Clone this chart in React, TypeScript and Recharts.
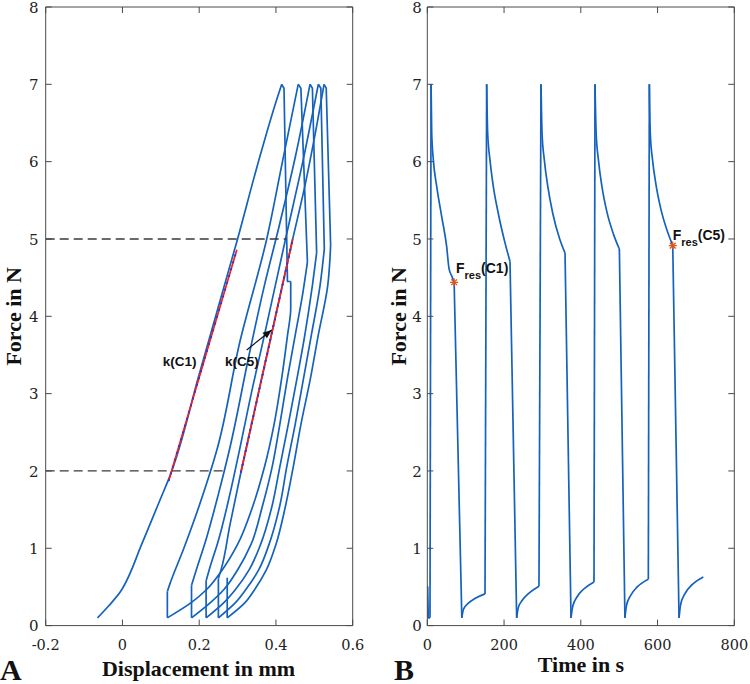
import React from 'react';
import { LineChart, Line, XAxis, YAxis } from 'recharts';

// ---------- ticks ----------
const xTicksA = [-0.2, 0, 0.2, 0.4, 0.6];
const xTicksB = [0, 200, 400, 600, 800];
const yTicks = [0, 1, 2, 3, 4, 5, 6, 7, 8];

// ---------- panel A: force (N) vs displacement (mm) ----------
// loading branches
const loadA1 = [
  [-0.065, 0.1], [-0.035, 0.26], [-0.005, 0.44], [0, 0.48], [0.05, 1.05], [0.1, 1.65], [0.121, 1.9],
  [0.2, 3.25], [0.3, 5.0], [0.36, 6.1], [0.405, 6.85], [0.415, 7.0],
];
const loadA2 = [
  [0.117, 0.44], [0.123, 0.53], [0.16, 1.0], [0.2, 1.55], [0.246, 2.27], [0.306, 3.67], [0.376, 5.0],
  [0.417, 6.0], [0.458, 7.0],
];
const loadA3 = [
  [0.18, 0.52], [0.19, 0.68], [0.22, 1.15], [0.25, 1.7], [0.28, 2.3], [0.33, 3.5], [0.37, 4.4],
  [0.41, 5.2], [0.45, 6.05], [0.4887, 7.0],
];
const loadA4 = [
  [0.218, 0.58], [0.226, 0.72], [0.25, 1.1], [0.28, 1.7], [0.305, 2.27], [0.34, 3.1], [0.366, 3.67],
  [0.425, 5.0], [0.47, 6.0], [0.5104, 7.0],
];
const loadA5 = [
  [0.25, 0.61], [0.258, 0.74], [0.28, 1.3], [0.309, 1.99], [0.384, 3.67], [0.4437, 5.0], [0.476, 5.7],
  [0.5, 6.3], [0.5253, 7.0],
];
// relaxation at (almost) constant displacement
const relaxA1 = [[0.415, 7.0], [0.421, 6.95], [0.43, 4.45], [0.4385, 4.45]];
const relaxA2 = [[0.458, 7.0], [0.465, 6.95], [0.482, 4.7]];
const relaxA3 = [[0.4887, 7.0], [0.495, 6.95], [0.506, 4.82]];
const relaxA4 = [[0.5104, 7.0], [0.517, 6.95], [0.526, 4.87]];
const relaxA5 = [[0.5253, 7.0], [0.531, 6.95], [0.5425, 4.92]];
// unloading branches
const unloadA1 = [
  [0.4385, 4.45], [0.4385, 4.1], [0.43, 3.75], [0.415, 3.2], [0.395, 2.6], [0.37, 2.05], [0.34, 1.55],
  [0.3, 1.05], [0.26, 0.72], [0.22, 0.47], [0.18, 0.3], [0.117, 0.1],
];
const unloadA2 = [
  [0.482, 4.7], [0.47, 4.3], [0.45, 3.75], [0.43, 3.2], [0.41, 2.6], [0.39, 2.05], [0.365, 1.55],
  [0.335, 1.05], [0.3, 0.72], [0.265, 0.47], [0.23, 0.3], [0.18, 0.1],
];
const unloadA3 = [
  [0.506, 4.82], [0.495, 4.4], [0.475, 3.75], [0.455, 3.2], [0.432, 2.6], [0.41, 2.05], [0.39, 1.55],
  [0.36, 1.05], [0.33, 0.72], [0.295, 0.47], [0.265, 0.3], [0.218, 0.1],
];
const unloadA4 = [
  [0.526, 4.87], [0.515, 4.4], [0.492, 3.75], [0.472, 3.2], [0.45, 2.6], [0.428, 2.05], [0.41, 1.55],
  [0.382, 1.05], [0.355, 0.72], [0.322, 0.47], [0.295, 0.3], [0.25, 0.1],
];
const unloadA5 = [
  [0.5425, 4.92], [0.535, 4.4], [0.51, 3.75], [0.49, 3.2], [0.465, 2.6], [0.445, 2.05], [0.425, 1.55],
  [0.4, 1.05], [0.375, 0.72], [0.345, 0.47], [0.32, 0.3], [0.273, 0.1],
];
const finalRecoveryA = [[0.273, 0.1], [0.273, 0.62]];

const dash5 = [[-0.2, 5], [0.428, 5]];
const dash2 = [[-0.2, 2], [0.27, 2]];
const kC1 = [[0.121, 1.88], [0.298, 4.86]];
const kC5 = [[0.309, 1.99], [0.4437, 5.0]];
const arrowC5 = [[0.3238, 3.565], [0.389, 3.824]];
const kLabels = [
  { x: 0.1487, y: 3.352, text: 'k(C1)' },
  { x: 0.3115, y: 3.352, text: 'k(C5)' },
];

// ---------- panel B: force (N) vs time (s) ----------
const preB = [[0.3, 0.1], [1, 0.5], [2.6, 0.1], [7, 0.1]];
const relaxB1 = [
  [9.8, 7.0], [11.5, 6.37], [15.8, 6.02], [24.5, 5.68], [37.5, 5.29], [50.5, 4.9], [56.5, 4.62],
  [64.6, 4.51], [69.9, 4.44],
];
const relaxB2 = [[154.7, 7.0], [157.3, 6.37], [163.4, 6.02], [172, 5.68], [185, 5.33], [202.5, 4.95], [215.5, 4.71]];
const relaxB3 = [[296.3, 7.0], [299, 6.37], [305, 6.02], [314, 5.68], [327, 5.33], [345, 5.0], [358.9, 4.82]];
const relaxB4 = [[437, 7.0], [440, 6.37], [446, 6.02], [455, 5.68], [468, 5.35], [486, 5.05], [500.5, 4.87]];
const relaxB5 = [[578.6, 7.0], [581, 6.37], [587, 6.02], [596, 5.7], [609, 5.38], [627, 5.08], [639.6, 4.915]];
const recoverB1 = [[90, 0.1], [94, 0.21], [107, 0.29], [124, 0.35], [150.4, 0.41]];
const recoverB2 = [[232.9, 0.1], [237, 0.23], [248, 0.33], [265, 0.42], [291, 0.51]];
const recoverB3 = [[374.5, 0.1], [379, 0.25], [390, 0.37], [407, 0.47], [434.4, 0.565]];
const recoverB4 = [[515, 0.1], [519, 0.26], [530, 0.39], [547, 0.5], [576, 0.6]];
const recoverB5 = [[656, 0.1], [660, 0.27], [671, 0.41], [690, 0.53], [719.3, 0.63]];
const fresStars = [[69.9, 4.44], [639.6, 4.915]];
const fresLabels = [
  { x: 74.8, y: 4.56, text: '(C1)' },
  { x: 639.5, y: 4.99, text: '(C5)' },
];

// ---------- derived straight joins ----------
const first = (a: number[][]) => a[0];
const last = (a: number[][]) => a[a.length - 1];
const loadsA = [loadA1, loadA2, loadA3, loadA4, loadA5];
const relaxesA = [relaxA1, relaxA2, relaxA3, relaxA4, relaxA5];
const unloadsA = [unloadA1, unloadA2, unloadA3, unloadA4, unloadA5];
const recoveryJoinsA = [0, 1, 2, 3].map((i) => [last(unloadsA[i]), first(loadsA[i + 1])]);

const relaxesB = [relaxB1, relaxB2, relaxB3, relaxB4, relaxB5];
const recoversB = [recoverB1, recoverB2, recoverB3, recoverB4, recoverB5];
const unloadJoinsB = relaxesB.map((r, i) => [last(r), first(recoversB[i])]);
const reloadJoinsB = [[last(preB), first(relaxB1)], ...[0, 1, 2, 3].map((i) => [last(recoversB[i]), first(relaxesB[i + 1])])];

// ---------- styling ----------
const BLUE = '#1462bd';
const AX = '#4a4a4a';
const SERIF = "'DejaVu Serif', serif";
const TITLE = "'Liberation Serif', 'Times New Roman', serif";
const SANS = "'Liberation Sans', Arial, sans-serif";

const pts = (a: number[][]) => a.map(([x, y]) => ({ x, y }));

const fmtNum = (v: number) => String(Math.round(v * 1000) / 1000);

const BottomTick = (p: any) => (
  <g>
    <line x1={p.x} y1={p.y} x2={p.x} y2={p.y - 6} stroke={AX} strokeWidth={1} />
    <text x={p.x} y={p.y + 24.4} textAnchor="middle" fontFamily={SERIF} fontSize={14.5} fill="#222">
      {fmtNum(p.payload.value)}
    </text>
  </g>
);
const TopTick = (p: any) => <line x1={p.x} y1={p.y} x2={p.x} y2={p.y + 6} stroke={AX} strokeWidth={1} />;
const makeLeftTick = (gap: number) => (p: any) => (
  <g>
    <line x1={p.x} y1={p.y} x2={p.x + 6} y2={p.y} stroke={AX} strokeWidth={1} />
    <text x={p.x - gap} y={p.y} dy="0.37em" textAnchor="end" fontFamily={SERIF} fontSize={15} fill="#222">
      {fmtNum(p.payload.value)}
    </text>
  </g>
);
const RightTick = (p: any) => <line x1={p.x} y1={p.y} x2={p.x - 6} y2={p.y} stroke={AX} strokeWidth={1} />;

const kLabelDot = (p: any) => (
  <text key={`kl-${p.index}`} x={p.cx} y={p.cy} textAnchor="middle" fontFamily={SANS} fontWeight="bold" fontSize={13.5} fill="#111">
    {p.payload.text}
  </text>
);

const fresLabelDot = (p: any) => (
  <text key={`fl-${p.index}`} x={p.cx} y={p.cy} fontFamily={SANS} fontWeight="bold" fontSize={14} fill="#111">
    <tspan>F</tspan>
    <tspan fontSize={11} dy={6.5}>res</tspan>
    <tspan dy={-6.5}>{p.payload.text}</tspan>
  </text>
);

const starDot = (p: any) => {
  const r = 4;
  const d = r * 0.72;
  return (
    <g key={`st-${p.index}`} stroke="#e0561a" strokeWidth={1.3}>
      <line x1={p.cx - r} y1={p.cy} x2={p.cx + r} y2={p.cy} />
      <line x1={p.cx} y1={p.cy - r} x2={p.cx} y2={p.cy + r} />
      <line x1={p.cx - d} y1={p.cy - d} x2={p.cx + d} y2={p.cy + d} />
      <line x1={p.cx - d} y1={p.cy + d} x2={p.cx + d} y2={p.cy - d} />
    </g>
  );
};

let arrowStart: { x: number; y: number } | null = null;
const arrowDot = (p: any) => {
  if (p.index === 0) {
    arrowStart = { x: p.cx, y: p.cy };
    return <g key="ar0" />;
  }
  let sx = p.cx - 25;
  let sy = p.cy + 20;
  if (p.points && p.points[0]) {
    sx = p.points[0].x;
    sy = p.points[0].y;
  } else if (arrowStart) {
    sx = arrowStart.x;
    sy = arrowStart.y;
  }
  const ang = Math.atan2(p.cy - sy, p.cx - sx);
  const L = 9;
  const W = 3.6;
  const bx = p.cx - L * Math.cos(ang);
  const by = p.cy - L * Math.sin(ang);
  const nx = -Math.sin(ang) * W;
  const ny = Math.cos(ang) * W;
  return (
    <polygon key="ar1" points={`${p.cx},${p.cy} ${bx + nx},${by + ny} ${bx - nx},${by - ny}`} fill="#111" stroke="none" />
  );
};

const BOTTOM_H = 30;
const LEFT_W = 40;

const commonAxes = (domainX: number[], ticksX: number[], leftGap: number) => [
  <XAxis key="xb" xAxisId="b" type="number" dataKey="x" domain={domainX} ticks={ticksX} interval={0}
    height={BOTTOM_H} tickSize={0} tickMargin={0} allowDataOverflow
    axisLine={{ stroke: AX, strokeWidth: 1 }} tickLine={false} tick={(p: any) => <BottomTick {...p} />} />,
  <XAxis key="xt" xAxisId="t" orientation="top" type="number" dataKey="x" domain={domainX} ticks={ticksX} interval={0}
    height={1} tickSize={0} tickMargin={0} allowDataOverflow
    axisLine={{ stroke: AX, strokeWidth: 1 }} tickLine={false} tick={(p: any) => <TopTick {...p} />} />,
  <YAxis key="yl" yAxisId="l" type="number" domain={[0, 8]} ticks={yTicks} interval={0}
    width={LEFT_W} tickSize={0} tickMargin={0} allowDataOverflow
    axisLine={{ stroke: AX, strokeWidth: 1 }} tickLine={false} tick={makeLeftTick(leftGap)} />,
  <YAxis key="yr" yAxisId="r" orientation="right" type="number" domain={[0, 8]} ticks={yTicks} interval={0}
    width={1} tickSize={0} tickMargin={0} allowDataOverflow
    axisLine={{ stroke: AX, strokeWidth: 1 }} tickLine={false} tick={(p: any) => <RightTick {...p} />} />,
];

const series = (key: string, data: any[], stroke: string, extra: any = {}) => (
  <Line
    key={key}
    xAxisId="b"
    yAxisId="l"
    data={data}
    dataKey="y"
    type="linear"
    stroke={stroke}
    strokeWidth={1.7}
    strokeLinejoin="round"
    dot={false}
    activeDot={false}
    isAnimationActive={false}
    {...extra}
  />
);

const PanelA = () => (
  <LineChart width={375} height={684} margin={{ top: 6, right: 21.3, bottom: 58.4 - BOTTOM_H, left: 45.7 - LEFT_W }}>
    {commonAxes([-0.2, 0.6], xTicksA, 7.2)}
    {loadsA.map((a, i) => series(`la${i}`, pts(a), BLUE, { type: 'monotoneY' }))}
    {relaxesA.map((a, i) => series(`ra${i}`, pts(a), BLUE))}
    {unloadsA.map((a, i) => series(`ua${i}`, pts(a), BLUE, { type: 'monotoneY' }))}
    {recoveryJoinsA.map((a, i) => series(`ja${i}`, pts(a), BLUE))}
    {series('fra', pts(finalRecoveryA), BLUE)}
    {series('d5', pts(dash5), '#3a3a3a', { strokeWidth: 1.3, strokeDasharray: '9 5' })}
    {series('d2', pts(dash2), '#3a3a3a', { strokeWidth: 1.3, strokeDasharray: '9 5' })}
    {series('k1', pts(kC1), '#ff1a1a', { strokeWidth: 1.7 })}
    {series('k5', pts(kC5), '#ff1a1a', { strokeWidth: 1.7 })}
    {series('k1d', pts(kC1), '#2a3ad0', { strokeWidth: 2.2, strokeDasharray: '0.1 7', strokeLinecap: 'round' })}
    {series('k5d', pts(kC5), '#2a3ad0', { strokeWidth: 2.2, strokeDasharray: '0.1 7', strokeLinecap: 'round' })}
    {series('arr', pts(arrowC5), '#111', { strokeWidth: 1.2, dot: arrowDot })}
    {series('kl', kLabels, 'none', { dot: kLabelDot })}
  </LineChart>
);

const PanelB = () => (
  <LineChart width={375} height={684} margin={{ top: 6, right: 14.7, bottom: 58.4 - BOTTOM_H, left: 52.3 - LEFT_W }}>
    {commonAxes([0, 800], xTicksB, 5.6)}
    {series('pre', pts(preB), BLUE)}
    {relaxesB.map((a, i) => series(`rb${i}`, pts(a), BLUE, { type: 'monotoneX' }))}
    {recoversB.map((a, i) => series(`cb${i}`, pts(a), BLUE, { type: 'monotoneX' }))}
    {unloadJoinsB.map((a, i) => series(`ub${i}`, pts(a), BLUE))}
    {reloadJoinsB.map((a, i) => series(`lb${i}`, pts(a), BLUE))}
    {series('st', pts(fresStars), 'none', { dot: starDot })}
    {series('fl', fresLabels, 'none', { dot: fresLabelDot })}
  </LineChart>
);

export default function App() {
  return (
    <div style={{ position: 'absolute', left: 0, top: 0, width: 750, height: 684, background: '#fff', overflow: 'hidden' }}>
      <div style={{ position: 'absolute', left: 0, top: 0 }}>
        <PanelA />
      </div>
      <div style={{ position: 'absolute', left: 375, top: 0 }}>
        <PanelB />
      </div>
      <svg width={750} height={684} style={{ position: 'absolute', left: 0, top: 0, pointerEvents: 'none' }}>
        <g fontFamily={TITLE} fontWeight="bold" fill="#111">
          <text x={198.5} y={676} textAnchor="middle" fontSize={22}>Displacement in mm</text>
          <text x={581} y={672} textAnchor="middle" fontSize={22}>Time in s</text>
          <text transform="translate(20.7,316.3) rotate(-90)" textAnchor="middle" fontSize={22}>Force in N</text>
          <text transform="translate(405.5,316.3) rotate(-90)" textAnchor="middle" fontSize={22}>Force in N</text>
          <text x={0} y={680} fontSize={30}>A</text>
          <text x={394} y={680} fontSize={30}>B</text>
        </g>
      </svg>
    </div>
  );
}
